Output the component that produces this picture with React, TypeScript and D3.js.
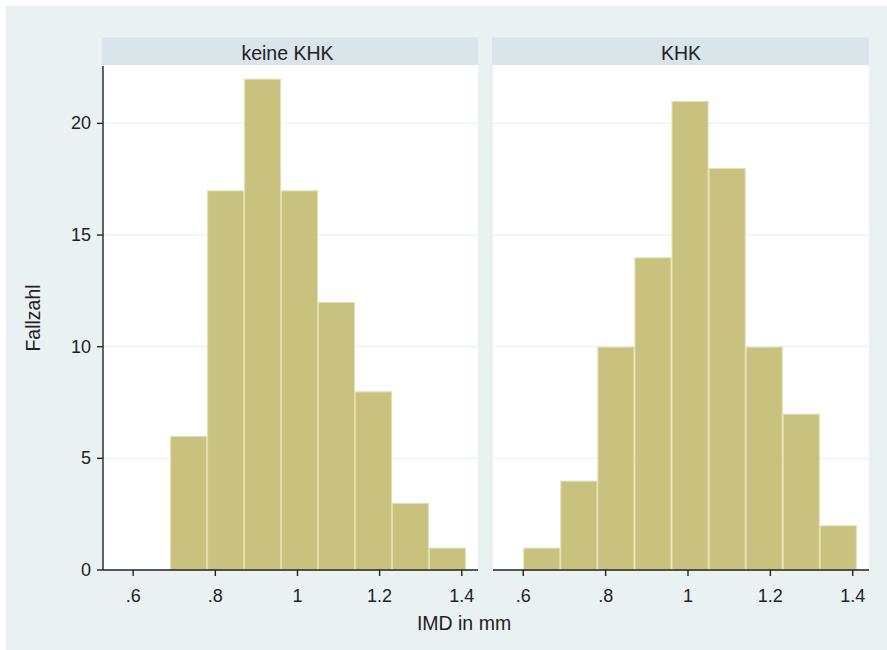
import React from "react";
import * as d3 from "d3";

// Histogram of IMD (mm) by group, shared bins
const groups = ["keine KHK", "KHK"];
const binStart = 0.6;
const binWidth = 0.09;
const countsKeineKHK = [0, 6, 17, 22, 17, 12, 8, 3, 1];
const countsKHK = [1, 4, 10, 14, 21, 18, 10, 7, 2];
const xTicks = [0.6, 0.8, 1.0, 1.2, 1.4];
const yTicks = [0, 5, 10, 15, 20];
const xTitle = "IMD in mm";
const yTitle = "Fallzahl";

const W = 887;
const H = 650;
const FONT = "'Liberation Sans', Arial, Helvetica, sans-serif";
const BG = "#eaf1f3";
const STRIP = "#d9e5eb";
const BAR = "#c9c27f";
const BAR_EDGE = "#e3ddb0";
const INK = "#222";

const fmtX = (v: number) => {
  const s = d3.format("~g")(+v.toFixed(2));
  return s.startsWith("0.") ? s.slice(1) : s;
};

export default function App() {
  const plotTop = 66;
  const plotBottom = 570;
  const panels = [
    { name: groups[0], counts: countsKeineKHK, x0: 103, x1: 478 },
    { name: groups[1], counts: countsKHK, x0: 493, x1: 869 },
  ];
  const y = d3.scaleLinear().domain([0, 22.57]).range([plotBottom, plotTop]);
  const xDomain: [number, number] = [0.5265, 1.4395];

  return (
    <svg
      width={W}
      height={H}
      style={{ position: "absolute", left: 0, top: 0, fontFamily: FONT }}
    >
      <rect x={0} y={0} width={W} height={H} fill="#fff" />
      <rect x={6} y={6} width={W - 6} height={H - 6} fill={BG} />

      {panels.map((p, pi) => {
        const x = d3.scaleLinear().domain(xDomain).range([p.x0, p.x1]);
        const bins = p.counts.map((c, i) => ({
          lo: binStart + i * binWidth,
          hi: binStart + (i + 1) * binWidth,
          c,
        }));
        return (
          <g key={p.name}>
            {/* strip header */}
            <rect x={p.x0 - 1} y={37.5} width={p.x1 - p.x0 + 1} height={27.5} fill={STRIP} />
            <text
              x={(p.x0 + p.x1) / 2 - (pi === 0 ? 3 : 0)}
              y={60}
              textAnchor="middle"
              fontSize={19.5}
              fill={INK}
            >
              {p.name}
            </text>
            {/* plot region */}
            <rect x={p.x0} y={65} width={p.x1 - p.x0} height={plotBottom - 65} fill="#fff" />
            {yTicks
              .filter((t) => t > 0)
              .map((t) => (
                <line
                  key={t}
                  x1={p.x0}
                  x2={p.x1}
                  y1={y(t)}
                  y2={y(t)}
                  stroke={BG}
                  strokeWidth={1.2}
                />
              ))}
            {bins
              .filter((b) => b.c > 0)
              .map((b, i) => (
                <rect
                  key={i}
                  x={x(b.lo) + 0.5}
                  y={y(b.c) + 0.5}
                  width={x(b.hi) - x(b.lo) - 1}
                  height={y(0) - y(b.c) - 0.5}
                  fill={BAR}
                  stroke={BAR_EDGE}
                  strokeWidth={1}
                />
              ))}
            {/* x axis */}
            <line x1={p.x0} x2={p.x1} y1={plotBottom} y2={plotBottom} stroke={INK} strokeWidth={1.4} />
            {xTicks.map((t) => (
              <g key={t}>
                <line x1={x(t)} x2={x(t)} y1={plotBottom} y2={plotBottom + 6} stroke={INK} strokeWidth={1.4} />
                <text x={x(t)} y={602} textAnchor="middle" fontSize={18} fill={INK}>
                  {fmtX(t)}
                </text>
              </g>
            ))}
            {pi === 0 && (
              <g>
                <line x1={p.x0} x2={p.x0} y1={plotTop} y2={plotBottom} stroke={INK} strokeWidth={1.4} />
                {yTicks.map((t) => (
                  <g key={t}>
                    <line x1={p.x0 - 6} x2={p.x0} y1={y(t)} y2={y(t)} stroke={INK} strokeWidth={1.4} />
                    <text
                      x={p.x0 - 12}
                      y={y(t)}
                      textAnchor="end"
                      dominantBaseline="central"
                      fontSize={18}
                      fill={INK}
                    >
                      {t}
                    </text>
                  </g>
                ))}
              </g>
            )}
          </g>
        );
      })}

      <text x={464} y={630} textAnchor="middle" fontSize={19.5} fill={INK}>
        {xTitle}
      </text>
      <text
        transform={`translate(40,${(plotTop + plotBottom) / 2}) rotate(-90)`}
        textAnchor="middle"
        fontSize={19.5}
        fill={INK}
      >
        {yTitle}
      </text>
    </svg>
  );
}
